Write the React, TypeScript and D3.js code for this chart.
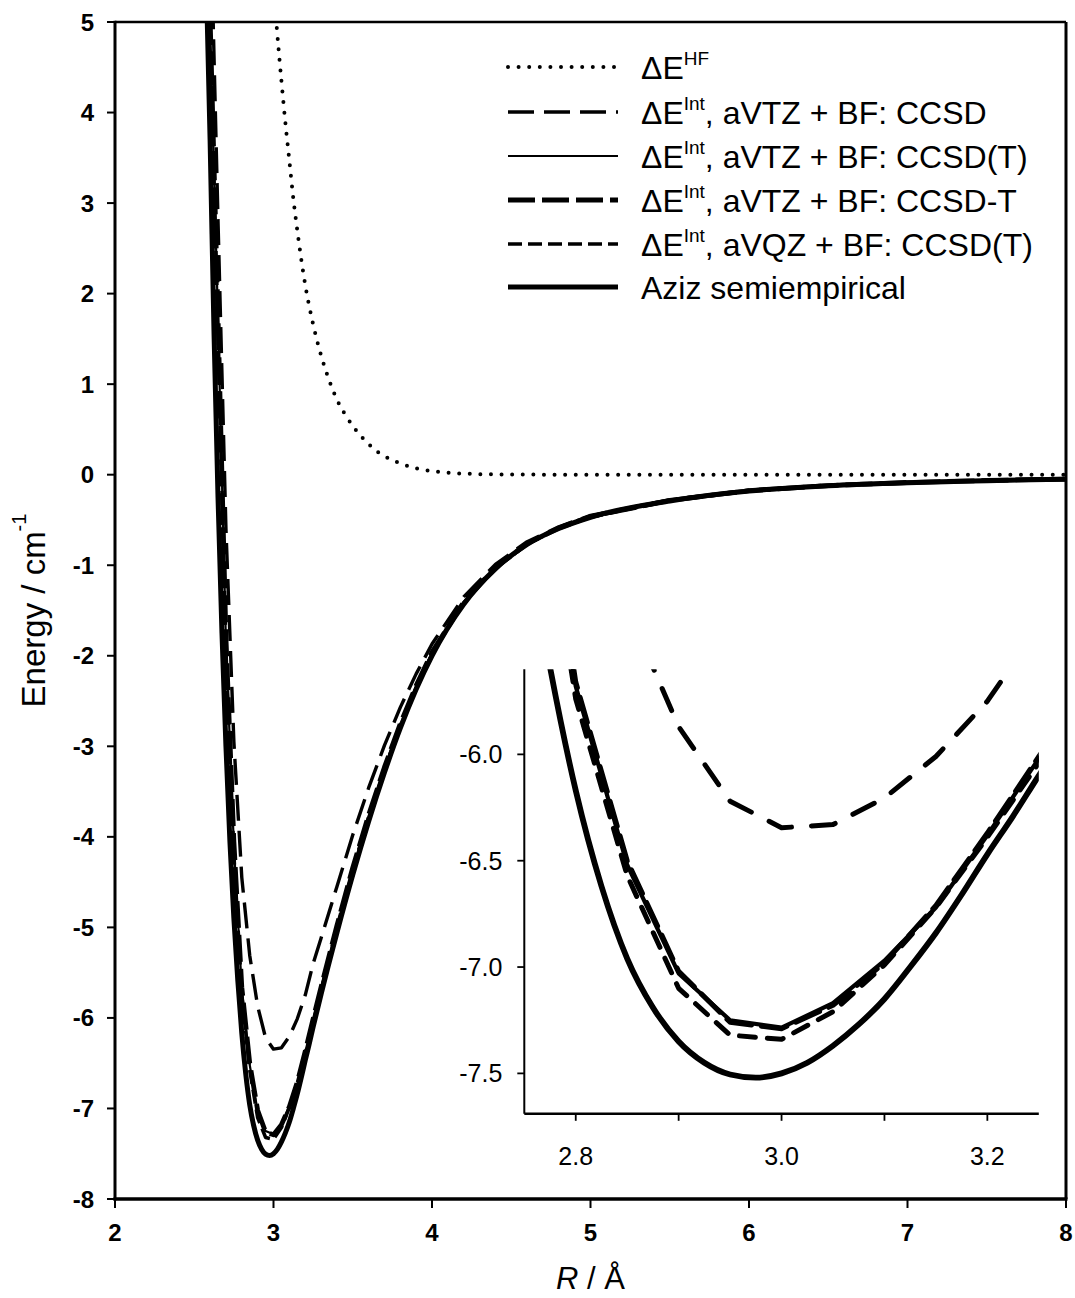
import React from 'react';
import * as d3 from 'd3';

const W = 1075;
const H = 1298;

// R grid (Å) for the ab initio series
const rGrid = [2.6, 2.65, 2.7, 2.75, 2.8, 2.85, 2.9, 2.95, 3.0, 3.05, 3.1, 3.15, 3.2, 3.25, 3.3, 3.4, 3.5, 3.6, 3.7, 3.8, 3.9, 4.0, 4.2, 4.4, 4.6, 4.8, 5.0, 5.5, 6.0, 6.5, 7.0, 7.5, 8.0];

const eCCSD = [6.4, 2.8, -0.6, -2.95, -4.45, -5.31, -5.87, -6.22, -6.345, -6.33, -6.205, -6.01, -5.75, -5.4, -5.12, -4.55, -3.98, -3.46, -2.99, -2.57, -2.2, -1.87, -1.35, -0.99, -0.74, -0.575, -0.45, -0.275, -0.17, -0.115, -0.083, -0.062, -0.046];
const eCCSDpT = [5.0, 1.7, -1.85, -4.1, -5.68, -6.52, -7.03, -7.25, -7.285, -7.17, -6.97, -6.72, -6.38, -6.02, -5.67, -4.99, -4.35, -3.77, -3.24, -2.76, -2.34, -1.97, -1.41, -1.03, -0.765, -0.59, -0.465, -0.285, -0.178, -0.121, -0.087, -0.065, -0.048];
const eCCSDmT = [5.05, 1.75, -1.8, -4.05, -5.66, -6.5, -7.02, -7.26, -7.29, -7.18, -6.98, -6.71, -6.37, -6.01, -5.66, -4.98, -4.34, -3.76, -3.23, -2.75, -2.33, -1.96, -1.405, -1.025, -0.762, -0.588, -0.463, -0.284, -0.177, -0.12, -0.086, -0.064, -0.048];
const eVQZ = [4.9, 1.6, -1.95, -4.2, -5.74, -6.57, -7.1, -7.32, -7.34, -7.21, -6.99, -6.72, -6.39, -6.04, -5.69, -5.0, -4.36, -3.78, -3.25, -2.77, -2.35, -1.98, -1.415, -1.035, -0.768, -0.592, -0.468, -0.287, -0.18, -0.122, -0.088, -0.066, -0.049];

// Aziz semiempirical
const rAziz = [2.57, 2.6, 2.625, 2.65, 2.675, 2.7, 2.725, 2.75, 2.775, 2.8, 2.825, 2.85, 2.875, 2.9, 2.925, 2.95, 2.975, 3.0, 3.025, 3.05, 3.075, 3.1, 3.125, 3.15, 3.175, 3.2, 3.225, 3.25, 3.3, 3.4, 3.5, 3.6, 3.7, 3.8, 3.9, 4.0, 4.2, 4.4, 4.6, 4.8, 5.0, 5.5, 6.0, 6.5, 7.0, 7.5, 8.0];
const eAziz = [5.9, 3.7, 1.55, -0.25, -1.75, -3.0, -4.05, -4.9, -5.59, -6.17, -6.62, -6.96, -7.19, -7.35, -7.45, -7.505, -7.52, -7.5, -7.45, -7.37, -7.27, -7.15, -7.0, -6.84, -6.66, -6.47, -6.29, -6.1, -5.74, -5.06, -4.42, -3.83, -3.29, -2.8, -2.37, -2.0, -1.43, -1.04, -0.77, -0.595, -0.47, -0.29, -0.18, -0.122, -0.088, -0.066, -0.049];

// Hartree-Fock
const rHF = [3.0, 3.02, 3.05, 3.08, 3.1, 3.125, 3.15, 3.175, 3.2, 3.25, 3.3, 3.35, 3.4, 3.45, 3.5, 3.55, 3.6, 3.65, 3.7, 3.8, 3.9, 4.0, 4.1, 4.2, 4.3, 4.4, 4.6, 5.0, 6.0, 7.0, 8.0];
const eHF = [5.4, 4.95, 4.35, 3.8, 3.47, 3.05, 2.7, 2.38, 2.1, 1.66, 1.32, 1.05, 0.83, 0.67, 0.54, 0.43, 0.34, 0.26, 0.205, 0.125, 0.07, 0.04, 0.022, 0.012, 0.006, 0.003, 0.001, 0, 0, 0, 0];

const xTicks = [2, 3, 4, 5, 6, 7, 8];
const yTicks = [5, 4, 3, 2, 1, 0, -1, -2, -3, -4, -5, -6, -7, -8];
const insetXTicks = [2.8, 2.9, 3.0, 3.1, 3.2];
const insetXLabels = ['2.8', '3.0', '3.2'];
const insetYTicks = [-6.0, -6.5, -7.0, -7.5];

const legendLabels = [
  { sup: 'HF', rest: '' },
  { sup: 'Int', rest: ', aVTZ + BF: CCSD' },
  { sup: 'Int', rest: ', aVTZ + BF: CCSD(T)' },
  { sup: 'Int', rest: ', aVTZ + BF: CCSD-T' },
  { sup: 'Int', rest: ', aVQZ + BF: CCSD(T)' },
  { sup: '', rest: 'Aziz semiempirical' },
];

type Style = { w: number; dash?: string; cap: 'butt' | 'round'; wi: number; dashi?: string };
const styles: Style[] = [
  { w: 4, dash: '0 10.6', cap: 'round', wi: 4, dashi: '0 10.6' },
  { w: 3.4, dash: '26 10', cap: 'butt', wi: 5, dashi: '24 20' },
  { w: 2.2, cap: 'butt', wi: 4.2 },
  { w: 4.8, dash: '27 7', cap: 'butt', wi: 5, dashi: '26 10' },
  { w: 3.6, dash: '14 6', cap: 'butt', wi: 5, dashi: '16 12' },
  { w: 5, cap: 'butt', wi: 5.8 },
];

const FONT = '"Liberation Sans", Arial, Helvetica, sans-serif';

export default function App() {
  const x = d3.scaleLinear().domain([2, 8]).range([115, 1066]);
  const y = d3.scaleLinear().domain([-8, 5]).range([1199, 22]);
  const xi = d3.scaleLinear().domain([2.75, 3.25]).range([524.3, 1038.8]);
  const yi = d3.scaleLinear().domain([-7.69, -5.6]).range([1113.8, 669.3]);

  const series = [
    { r: rHF, e: eHF, curve: d3.curveMonotoneX },
    { r: rGrid, e: eCCSD, curve: d3.curveLinear },
    { r: rGrid, e: eCCSDpT, curve: d3.curveLinear },
    { r: rGrid, e: eCCSDmT, curve: d3.curveLinear },
    { r: rGrid, e: eVQZ, curve: d3.curveLinear },
    { r: rAziz, e: eAziz, curve: d3.curveMonotoneX },
  ];

  const mkPath = (r: number[], e: number[], curve: any, sx: any, sy: any) =>
    d3
      .line<number>()
      .x((_, i) => sx(r[i]))
      .y((_, i) => sy(e[i]))
      .curve(curve)(r) || '';

  const legendY = [67, 112, 156, 200, 244, 287];

  return (
    <svg
      width={W}
      height={H}
      style={{ position: 'absolute', left: 0, top: 0, background: '#fff' }}
      fontFamily={FONT}
    >
      <defs>
        <clipPath id="mainClip">
          <rect x={x(2)} y={y(5)} width={x(8) - x(2)} height={y(-8) - y(5)} />
        </clipPath>
        <clipPath id="insetClip">
          <rect x={xi(2.75)} y={yi(-5.6)} width={xi(3.25) - xi(2.75)} height={yi(-7.69) - yi(-5.6)} />
        </clipPath>
      </defs>
      <rect x={0} y={0} width={W} height={H} fill="#fff" />

      {/* main curves */}
      <g clipPath="url(#mainClip)" fill="none" stroke="#000">
        {series.map((s, k) => (
          <path
            key={k}
            d={mkPath(s.r, s.e, s.curve, x, y)}
            strokeWidth={styles[k].w}
            strokeDasharray={styles[k].dash}
            strokeLinecap={styles[k].cap}
            strokeLinejoin="round"
          />
        ))}
      </g>

      {/* main frame */}
      <g stroke="#000" fill="none">
        <line x1={x(2)} x2={x(8)} y1={y(5)} y2={y(5)} strokeWidth={2.6} />
        <line x1={x(8)} x2={x(8)} y1={y(5)} y2={y(-8)} strokeWidth={3} />
        <line x1={x(2)} x2={x(2)} y1={y(5) - 1.3} y2={y(-8) + 1.5} strokeWidth={3} />
        <line x1={x(2) - 1.5} x2={x(8) + 1.5} y1={y(-8)} y2={y(-8)} strokeWidth={3.5} />
        {yTicks.map((t) => (
          <line key={'yt' + t} x1={x(2) - 8} x2={x(2)} y1={y(t)} y2={y(t)} strokeWidth={2} />
        ))}
        {xTicks.map((t) => (
          <line key={'xt' + t} x1={x(t)} x2={x(t)} y1={y(-8)} y2={y(-8) + 9} strokeWidth={2} />
        ))}
      </g>
      <g fontSize={24} fontWeight="bold" fill="#000">
        {yTicks.map((t) => (
          <text key={'yl' + t} x={x(2) - 21} y={y(t)} textAnchor="end" dominantBaseline="central">
            {t < 0 ? '-' + Math.abs(t) : String(t)}
          </text>
        ))}
        {xTicks.map((t) => (
          <text key={'xl' + t} x={x(t)} y={1232} textAnchor="middle" dominantBaseline="central">
            {String(t)}
          </text>
        ))}
      </g>

      {/* axis titles */}
      <text
        transform={`translate(33, ${y(-1.5)}) rotate(-90)`}
        textAnchor="middle"
        dominantBaseline="central"
        fontSize={33}
        fill="#000"
      >
        Energy / cm
        <tspan dy={-14} fontSize={20}>-1</tspan>
      </text>
      <text x={x(5)} y={1289} textAnchor="middle" fontSize={31} fill="#000">
        <tspan fontStyle="italic">R</tspan> / Å
      </text>

      {/* legend */}
      <g fill="none" stroke="#000">
        {legendY.map((ly, k) => (
          <line
            key={'lg' + k}
            x1={508}
            x2={618}
            y1={ly}
            y2={ly}
            strokeWidth={styles[k].w}
            strokeDasharray={styles[k].dash}
            strokeLinecap={styles[k].cap}
          />
        ))}
      </g>
      <g fontSize={32} fill="#000">
        {legendLabels.map((lab, k) => (
          <text key={'lt' + k} x={641} y={legendY[k] + 12}>
            {lab.sup ? (
              <>
                {'\u0394E'}
                <tspan dy={-14} fontSize={19}>{lab.sup}</tspan>
                <tspan dy={14}>{lab.rest}</tspan>
              </>
            ) : (
              lab.rest
            )}
          </text>
        ))}
      </g>

      {/* inset */}
      <g clipPath="url(#insetClip)" fill="none" stroke="#000">
        {series.map((s, k) =>
          k === 0 ? null : (
            <path
              key={'i' + k}
              d={mkPath(s.r, s.e, s.curve, xi, yi)}
              strokeWidth={styles[k].wi}
              strokeDasharray={styles[k].dashi}
              strokeLinecap="round"
              strokeLinejoin="round"
            />
          )
        )}
      </g>
      <g stroke="#000" fill="none">
        <line x1={xi(2.75)} x2={xi(2.75)} y1={yi(-5.6)} y2={yi(-7.69)} strokeWidth={2} />
        <line x1={xi(2.75)} x2={xi(3.25)} y1={yi(-7.69)} y2={yi(-7.69)} strokeWidth={2.5} />
        {insetXTicks.map((t) => (
          <line key={'ixt' + t} x1={xi(t)} x2={xi(t)} y1={yi(-7.69)} y2={yi(-7.69) + 7} strokeWidth={1.8} />
        ))}
        {insetYTicks.map((t) => (
          <line key={'iyt' + t} x1={xi(2.75) - 7} x2={xi(2.75)} y1={yi(t)} y2={yi(t)} strokeWidth={1.8} />
        ))}
      </g>
      <g fontSize={25} fill="#000">
        {insetXLabels.map((l) => (
          <text key={'ixl' + l} x={xi(+l)} y={1156} textAnchor="middle" dominantBaseline="central">
            {l}
          </text>
        ))}
        {insetYTicks.map((t) => (
          <text key={'iyl' + t} x={xi(2.75) - 22} y={yi(t)} textAnchor="end" dominantBaseline="central">
            {t.toFixed(1)}
          </text>
        ))}
      </g>
    </svg>
  );
}
